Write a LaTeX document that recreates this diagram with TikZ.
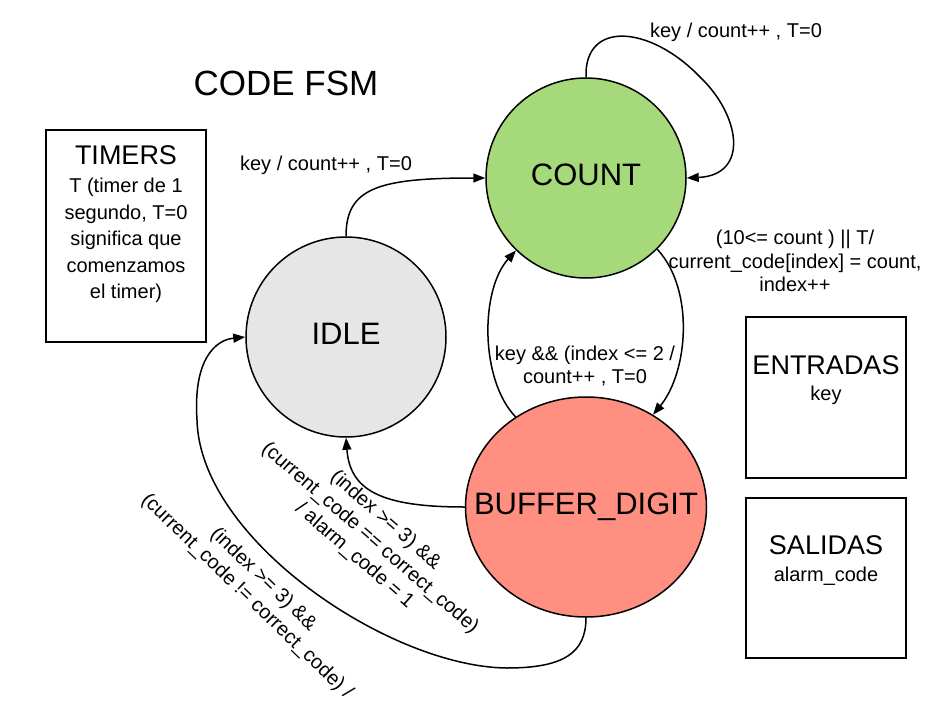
\documentclass[tikz,border=0pt]{standalone}
\usepackage{fontspec}
\setmainfont{Liberation Sans}
\usetikzlibrary{arrows.meta,shapes.geometric}
\definecolor{cgreen}{HTML}{A5D979}
\definecolor{cgrey}{HTML}{E6E6E6}
\definecolor{cred}{HTML}{FF8F80}
\begin{document}
\begin{tikzpicture}[x=1pt,y=-1pt,
  state/.style={draw=black,line width=1.5pt,circle,minimum size=200pt,inner sep=0pt,
    font=\fontsize{31}{34}\selectfont,text height=22pt,text depth=8pt},
  statetext/.style={inner sep=0pt,font=\fontsize{31}{34}\selectfont,text height=22pt,text depth=8pt},
  trans/.style={draw=black,line width=1.5pt,-{Triangle[length=12pt,width=9pt]}},
  lbl/.style={align=center,font=\fontsize{20}{23.5}\selectfont,inner sep=0pt},
  infobox/.style={draw=black,line width=1.5pt,inner sep=0pt},
  ttl/.style={font=\fontsize{27}{30}\selectfont,inner sep=0pt}
]
\useasboundingbox (0,0) rectangle (945,720);

% title
\node[font=\fontsize{35}{38}\selectfont,inner sep=0pt] (title) at (286,83) {CODE FSM};

% states
\node[state,fill=cgreen] (count) at (586,178) {COUNT};
\node[state,fill=cgrey] (idle) at (346,337) {IDLE};
\node[draw=black,line width=1.5pt,ellipse,fill=cred,inner sep=0pt,minimum width=241pt,minimum height=220pt] (buf) at (586,507) {};
\node[statetext] (buft) at (buf.center) {BUFFER\_DIGIT};

% info boxes
\node[infobox,minimum width=160pt,minimum height=212pt] (timers) at (126,236) {};
\node[ttl] (timerst) at (126,155) {TIMERS};
\node[lbl,font=\fontsize{20}{26.5}\selectfont,anchor=north] (timersb) at (126,178) {T (timer de 1\\segundo, T=0\\significa que\\comenzamos\\el timer)};

\node[infobox,minimum width=160pt,minimum height=161pt] (ent) at (826,397.5) {};
\node[ttl] (entt) at (826,365) {ENTRADAS};
\node[lbl] (entb) at (826,395) {key};

\node[infobox,minimum width=160pt,minimum height=160pt] (sal) at (826,578) {};
\node[ttl] (salt) at (826,545) {SALIDAS};
\node[lbl] (salb) at (826,576) {alarm\_code};

% transitions
\draw[trans] (idle.north) .. controls (346,188) and (378,178) .. (count.west);
\node[lbl] (l1) at (326,165) {key / count++ , T=0};

\draw[trans] (count.north) .. controls (584,20) and (650,25) .. (700,77)
   .. controls (740,115) and (750,175) .. (count.east);
\node[lbl] (l2) at (736,32) {key / count++ , T=0};

\draw[trans] (count.-45) .. controls (695,290) and (688,372) .. (buf.54);
\node[lbl] (l3) at (795,261) {(10<= count ) || T/\\current\_code[index] = count,\\index++};

\draw[trans] (buf.128) .. controls (480,380) and (480,290) .. (count.-134);
\node[lbl] (l4) at (585,366) {key \&\& (index <= 2 /\\count++ , T=0};

\draw[trans] (buf.west) .. controls (380,507) and (350,490) .. (idle.south);
\node[lbl,rotate=-41] (l5) at (370,538) {(index >= 3) \&\&\\(current\_code == correct\_code)\\/ alarm\_code = 1};

\draw[trans] (buf.south) .. controls (586,652) and (565,668) .. (507,668)
   .. controls (390,667) and (200,540) .. (197,420)
   .. controls (193,360) and (215,340) .. (idle.west);
\node[lbl,rotate=-44] (l6) at (255,588) {(index >= 3) \&\&\\(current\_code != correct\_code) /};
\end{tikzpicture}
\end{document}
